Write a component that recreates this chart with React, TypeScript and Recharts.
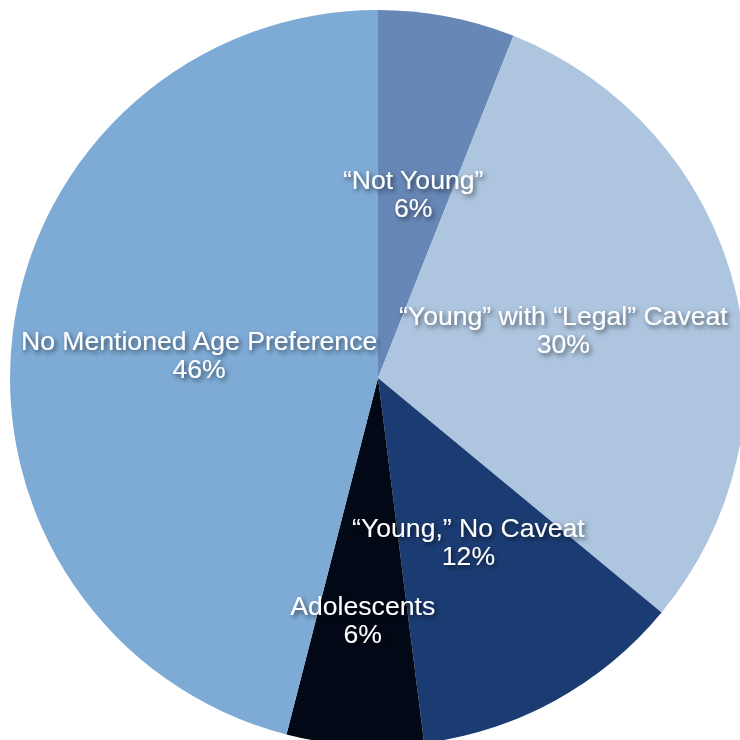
import { Pie, PieChart, Cell } from "recharts";

const categories = [
  "\u201CNot Young\u201D",
  "\u201CYoung\u201D with \u201CLegal\u201D Caveat",
  "\u201CYoung,\u201D No Caveat",
  "Adolescents",
  "No Mentioned Age Preference",
];
const shares = [6, 30, 12, 6, 46];
const colors = ["#6787b7", "#adc5df", "#1b3c73", "#030816", "#7eabd6"];

const data = categories.map((name, i) => ({ name, value: shares[i] }));

const RADIAN = Math.PI / 180;

// label distance from center as a fraction of radius (Adolescents pushed outward)
const labelFactor: Record<string, number> = {
  Adolescents: 0.66,
  "No Mentioned Age Preference": 0.49,
  "\u201CYoung\u201D with \u201CLegal\u201D Caveat": 0.52,
};

function renderLabel(props: any) {
  const { cx, cy, midAngle, outerRadius, name, value } = props;
  const f = labelFactor[name] ?? 0.51;
  const r = outerRadius * f;
  const x = cx + r * Math.cos(-midAngle * RADIAN);
  const y = cy + r * Math.sin(-midAngle * RADIAN);
  return (
    <text
      x={x}
      y={y}
      fill="#ffffff"
      textAnchor="middle"
      fontFamily="'Liberation Sans', Arial, sans-serif"
      fontSize={26.6}
      filter="url(#shadow)"
    >
      <tspan x={x} dy={-5}>{name}</tspan>
      <tspan x={x} dy={28}>{`${value}%`}</tspan>
    </text>
  );
}

export default function App() {
  return (
    <div style={{ position: "absolute", left: 0, top: 0, width: 740, height: 740, background: "#fff" }}>
      <PieChart width={740} height={740} margin={{ top: 0, right: 0, bottom: 0, left: 0 }}>
        <defs>
          <filter id="shadow" x="-20%" y="-50%" width="140%" height="200%">
            <feDropShadow dx={2} dy={2.5} stdDeviation={2.5} floodColor="#000" floodOpacity={0.6} />
          </filter>
        </defs>
        <Pie
          data={data}
          dataKey="value"
          nameKey="name"
          cx={378}
          cy={378}
          outerRadius={368}
          startAngle={90}
          endAngle={-270}
          stroke="none"
          label={renderLabel}
          labelLine={false}
          isAnimationActive={false}
        >
          {data.map((d, i) => (
            <Cell key={d.name} fill={colors[i]} />
          ))}
        </Pie>
      </PieChart>
    </div>
  );
}
